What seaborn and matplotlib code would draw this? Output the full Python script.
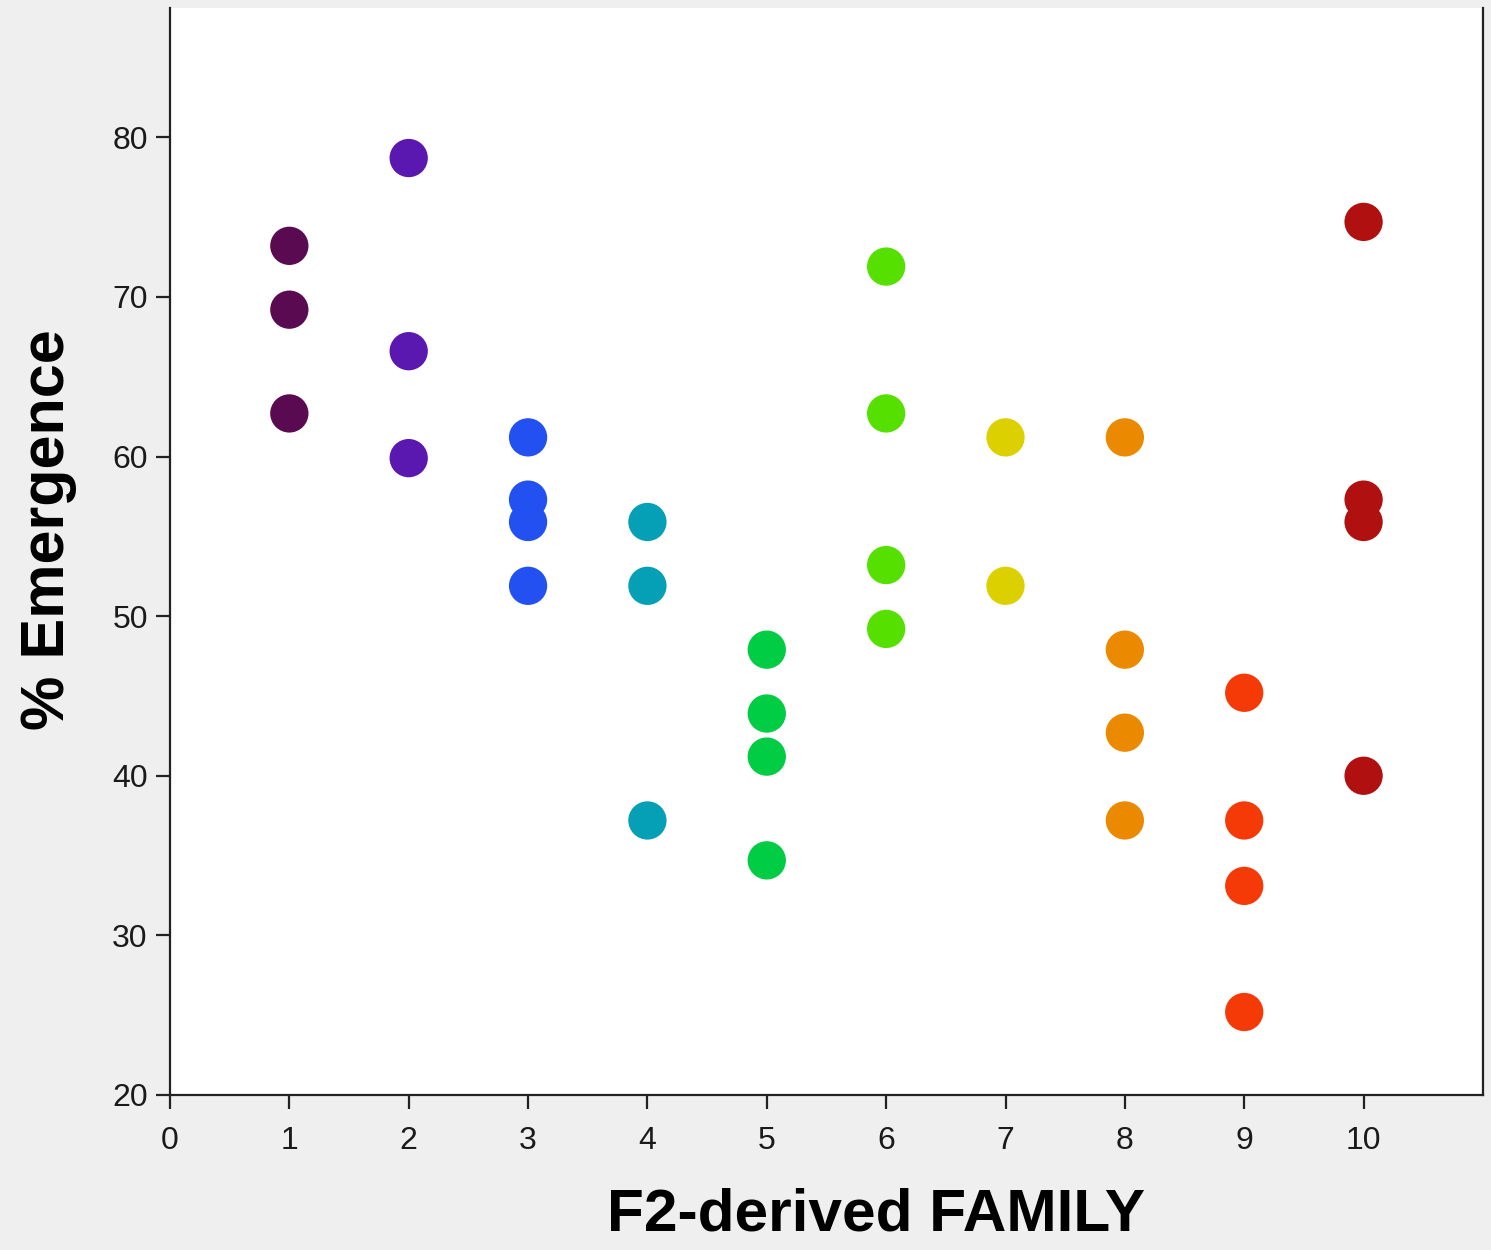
import pandas as pd
import seaborn as sns
import matplotlib.pyplot as plt

# % emergence per F2-derived family
family = [1, 1, 1,
          2, 2, 2,
          3, 3, 3, 3,
          4, 4, 4,
          5, 5, 5, 5,
          6, 6, 6, 6,
          7, 7,
          8, 8, 8, 8,
          9, 9, 9, 9,
          10, 10, 10, 10]
emergence = [73.2, 69.2, 62.7,
             78.7, 66.6, 59.9,
             61.2, 57.3, 55.9, 51.9,
             55.9, 51.9, 37.2,
             47.9, 43.9, 41.2, 34.7,
             71.9, 62.7, 53.2, 49.2,
             61.2, 51.9,
             61.2, 47.9, 42.7, 37.2,
             45.2, 37.2, 33.1, 25.2,
             74.7, 57.3, 55.9, 40.0]
family_colors = ["#5a0a50", "#5a18b0", "#2350f0", "#05a0b5", "#00cc44",
                 "#55e000", "#ddd000", "#eb8a00", "#f53a08", "#b01010"]
x_ticks = list(range(0, 11))
y_ticks = list(range(20, 90, 10))

df = pd.DataFrame({"family": family, "emergence": emergence})
palette = {i + 1: c for i, c in enumerate(family_colors)}

sns.set_style("white")
plt.rcParams["font.family"] = ["Liberation Sans", "DejaVu Sans"]

fig = plt.figure(figsize=(14.91, 12.5), dpi=100, facecolor="#efefef")
ax = fig.add_axes([0.114, 0.124, 0.8806, 0.8696])
ax.set_facecolor("white")

sns.scatterplot(data=df, x="family", y="emergence", hue="family",
                palette=palette, s=760, edgecolor="none", legend=False, ax=ax)

ax.set_xlim(0, 11)
ax.set_ylim(20, 88.1)
ax.set_xticks(x_ticks)
ax.set_yticks(y_ticks)
ax.tick_params(axis="both", direction="out", length=10, width=1.6,
               labelsize=23, labelcolor="#1a1a1a", color="#222222")
ax.tick_params(axis="x", pad=12)
ax.tick_params(axis="y", pad=6)
ax.tick_params(bottom=True, left=True)

for side in ["left", "bottom", "right"]:
    ax.spines[side].set_visible(True)
    ax.spines[side].set_color("#222222")
    ax.spines[side].set_linewidth(1.6)
ax.spines["top"].set_visible(False)

ax.set_xlabel("F2-derived FAMILY", fontsize=43.5, fontweight="bold", color="black")
ax.set_ylabel("% Emergence", fontsize=44, fontweight="bold", color="black")
ax.xaxis.set_label_coords(0.538, -0.085)
ax.yaxis.set_label_coords(-0.071, 0.52)

plt.savefig("out.png", dpi=100, facecolor=fig.get_facecolor())
